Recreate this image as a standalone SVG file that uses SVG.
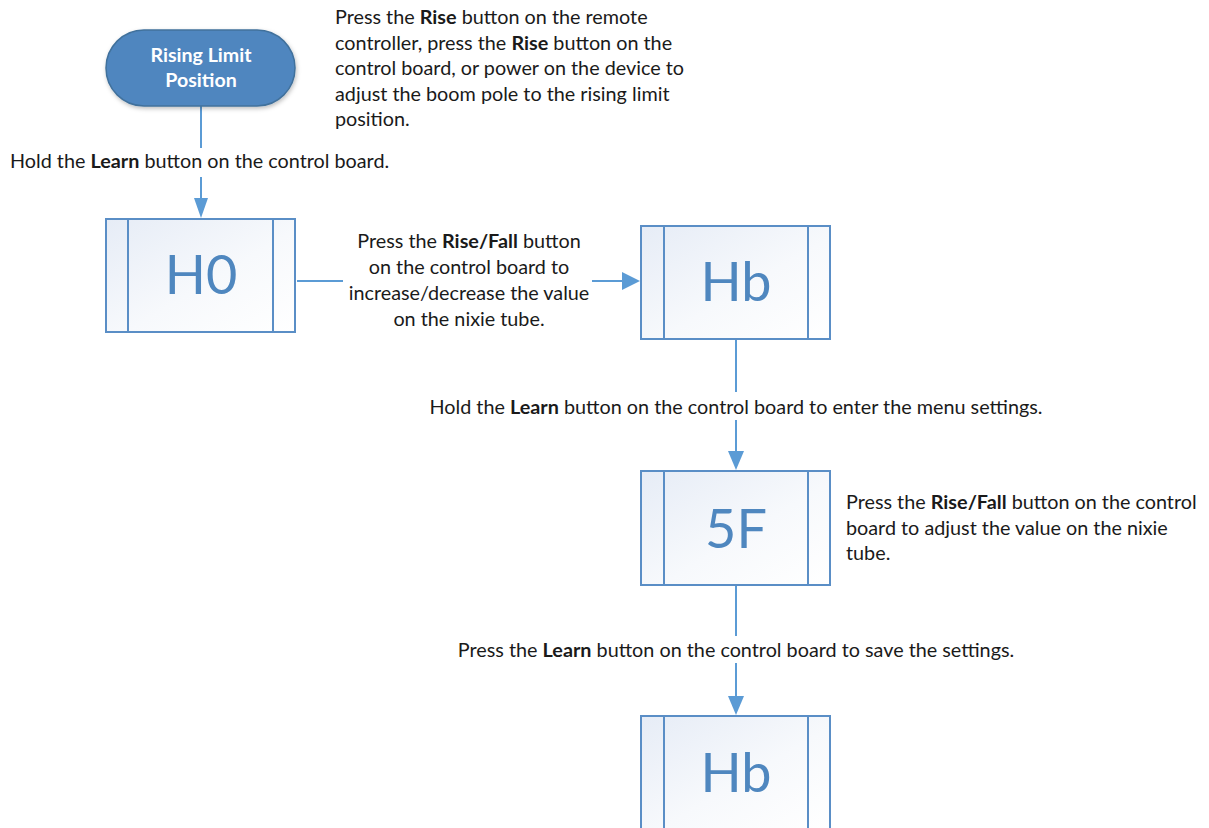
<svg xmlns="http://www.w3.org/2000/svg" width="1209" height="828" viewBox="0 0 1209 828">
<defs>
<linearGradient id="boxGrad" x1="0" y1="0" x2="1" y2="1">
<stop offset="0" stop-color="#e6ecf6"/>
<stop offset="0.55" stop-color="#f7f9fc"/>
<stop offset="1" stop-color="#ffffff"/>
</linearGradient>
<filter id="shadow" x="-10%" y="-10%" width="125%" height="130%">
<feDropShadow dx="1" dy="2" stdDeviation="2" flood-color="#000" flood-opacity="0.25"/>
</filter>
</defs>
<style>
.txt{font-family:Lato,"Liberation Sans",sans-serif;font-size:19.8px;fill:#1a1a1a}
.b{font-weight:bold}
.pill{fill:#4f86bf;stroke:#41719c;stroke-width:1.5}
.pilltxt{font-family:Lato,"Liberation Sans",sans-serif;font-size:19.6px;font-weight:bold;fill:#ffffff}
.box{fill:url(#boxGrad);stroke:#5a8ec6;stroke-width:2}
.div{stroke:#5a8ec6;stroke-width:2}
.big{font-family:Lato,"Liberation Sans",sans-serif;font-size:54px;fill:#4f87bf;text-anchor:middle}
.con{stroke:#5b9bd5;stroke-width:2;fill:none}
.ah{fill:#5b9bd5}
</style>

<g id="connectors">
<line class="con" x1="201" y1="106" x2="201" y2="148"/>
<line class="con" x1="201" y1="177" x2="201" y2="200"/>
<path class="ah" d="M194,198 L208,198 L201,218 Z"/>
<line class="con" x1="297" y1="281" x2="343" y2="281"/>
<line class="con" x1="592" y1="281" x2="623" y2="281"/>
<path class="ah" d="M622,272 L622,290 L640,281 Z"/>
<line class="con" x1="736" y1="339" x2="736" y2="392"/>
<line class="con" x1="736" y1="420" x2="736" y2="453"/>
<path class="ah" d="M728,451 L744,451 L736,470 Z"/>
<line class="con" x1="736" y1="585" x2="736" y2="636"/>
<line class="con" x1="736" y1="663" x2="736" y2="698"/>
<path class="ah" d="M728,696 L744,696 L736,715 Z"/>
</g>

<g id="labels">
<text class="txt"><tspan x="335" y="24">Press the <tspan class="b">Rise</tspan> button on the remote</tspan><tspan x="335" y="49.5">controller, press the <tspan class="b">Rise</tspan> button on the</tspan><tspan x="335" y="75">control board, or power on the device to</tspan><tspan x="335" y="100.5">adjust the boom pole to the rising limit</tspan><tspan x="335" y="126">position.</tspan></text>
<text class="txt" x="10" y="168">Hold the <tspan class="b">Learn</tspan> button on the control board.</text>
<text class="txt" text-anchor="middle"><tspan x="469" y="248">Press the <tspan class="b">Rise/Fall</tspan> button</tspan><tspan x="469" y="274">on the control board to</tspan><tspan x="469" y="300">increase/decrease the value</tspan><tspan x="469" y="326">on the nixie tube.</tspan></text>
<text class="txt" x="736" y="414" text-anchor="middle">Hold the <tspan class="b">Learn</tspan> button on the control board to enter the menu settings.</text>
<text class="txt"><tspan x="846" y="509">Press the <tspan class="b">Rise/Fall</tspan> button on the control</tspan><tspan x="846" y="535">board to adjust the value on the nixie</tspan><tspan x="846" y="560">tube.</tspan></text>
<text class="txt" x="736" y="657" text-anchor="middle">Press the <tspan class="b">Learn</tspan> button on the control board to save the settings.</text>
</g>

<g id="node-start">
<rect class="pill" x="106" y="30" width="189" height="76" rx="38" ry="38" filter="url(#shadow)"/>
<text class="pilltxt" text-anchor="middle"><tspan x="201" y="62">Rising Limit</tspan><tspan x="201" y="87">Position</tspan></text>
</g>

<g id="node-h0">
<rect class="box" x="106" y="219" width="189" height="113"/>
<line class="div" x1="128" y1="219" x2="128" y2="332"/>
<line class="div" x1="273" y1="219" x2="273" y2="332"/>
<text class="big" x="201" y="294">H0</text>
</g>

<g id="node-hb1">
<rect class="box" x="641" y="226" width="189" height="113"/>
<line class="div" x1="664" y1="226" x2="664" y2="339"/>
<line class="div" x1="808" y1="226" x2="808" y2="339"/>
<text class="big" x="736" y="301">Hb</text>
</g>

<g id="node-5f">
<rect class="box" x="641" y="471" width="189" height="114"/>
<line class="div" x1="664" y1="471" x2="664" y2="585"/>
<line class="div" x1="808" y1="471" x2="808" y2="585"/>
<text class="big" x="736" y="548">5F</text>
</g>

<g id="node-hb2">
<rect class="box" x="641" y="716" width="189" height="113"/>
<line class="div" x1="664" y1="716" x2="664" y2="829"/>
<line class="div" x1="808" y1="716" x2="808" y2="829"/>
<text class="big" x="736" y="792">Hb</text>
</g>
</svg>
